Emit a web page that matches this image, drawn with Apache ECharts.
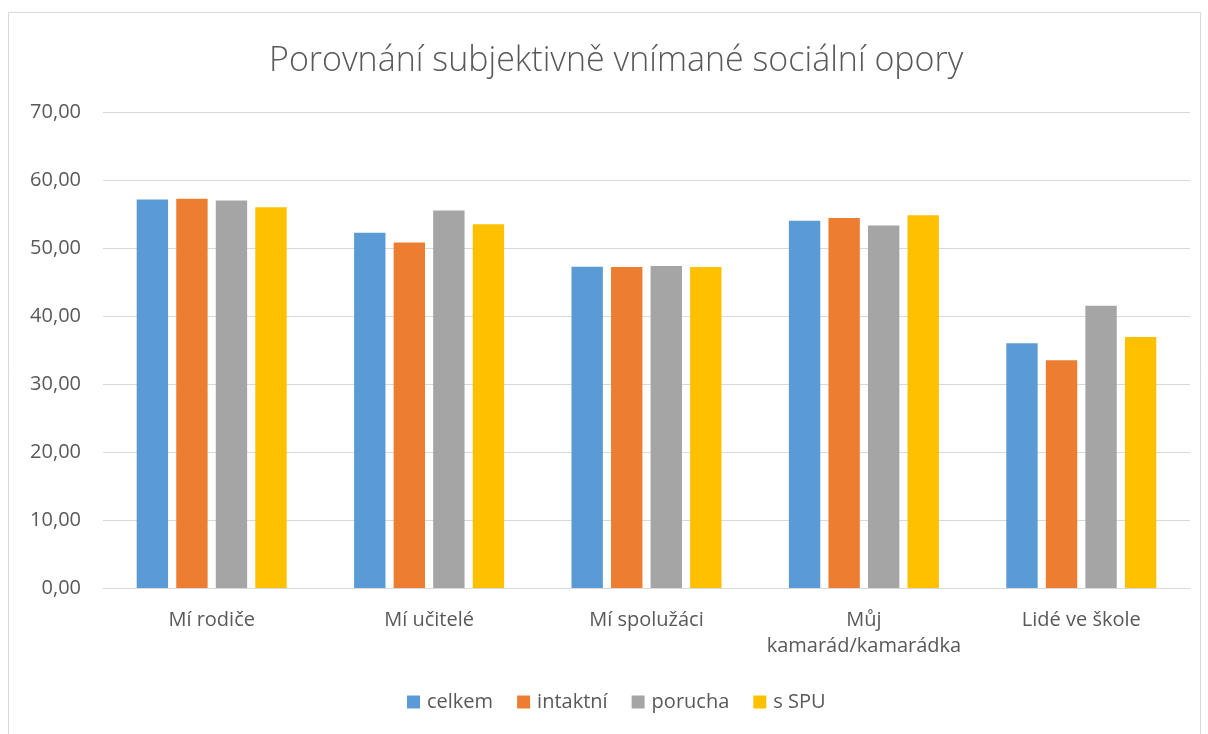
<!DOCTYPE html>
<html>
<head>
<meta charset="utf-8">
<script src="https://cdn.jsdelivr.net/npm/echarts@6/dist/echarts.min.js"></script>
<style>
  html, body { margin: 0; padding: 0; background: #fff; }
</style>
</head>
<body>
<div id="main" style="width:1208px;height:734px"></div>
<script>
const categories = ['Mí rodiče', 'Mí učitelé', 'Mí spolužáci', 'Můj\nkamarád/kamarádka', 'Lidé ve škole'];
const celkem = [57.15, 52.25, 47.25, 54.0, 36.0];
const intaktni = [57.25, 50.8, 47.2, 54.4, 33.5];
const porucha = [57.0, 55.5, 47.35, 53.3, 41.5];
const sSpu = [56.0, 53.5, 47.2, 54.8, 36.9];
const seriesNames = ['celkem', 'intaktní', 'porucha', 's SPU'];
const colors = ['#5B9BD5', '#ED7D31', '#A5A5A5', '#FFC000'];

const font = '"Open Sans", "Noto Sans", sans-serif';
const myChart = echarts.init(document.getElementById('main'));

const bar = (name, data, i) => ({
  name: name,
  type: 'bar',
  data: data,
  barGap: '26%',
  barCategoryGap: '31%',
  itemStyle: { color: colors[i] },
  animation: false
});

myChart.setOption({
  color: colors,
  graphic: [{
    type: 'rect',
    shape: { x: 8.5, y: 12.5, width: 1192, height: 740 },
    style: { fill: 'none', stroke: '#d9d9d9', lineWidth: 1 },
    silent: true
  }],
  title: {
    text: 'Porovnání subjektivně vnímané sociální opory',
    left: 264,
    top: 39,
    textStyle: { fontFamily: font, fontSize: 34, fontWeight: 300, color: '#595959' }
  },
  grid: { left: 103, right: 18, top: 112, bottom: 146 },
  legend: {
    data: seriesNames,
    bottom: 17,
    left: 402,
    icon: 'rect',
    itemWidth: 13,
    itemHeight: 13,
    itemGap: 24,
    textStyle: { fontFamily: font, fontSize: 20, color: '#595959', padding: [0, 0, 0, 2] }
  },
  xAxis: {
    type: 'category',
    data: categories,
    axisLine: { lineStyle: { color: '#d9d9d9', width: 1 } },
    axisTick: { show: false },
    axisLabel: {
      fontFamily: font, fontSize: 20, color: '#595959',
      margin: 19, lineHeight: 26, interval: 0
    }
  },
  yAxis: {
    type: 'value',
    min: 0,
    max: 70,
    interval: 10,
    axisLine: { show: false },
    axisTick: { show: false },
    splitLine: { lineStyle: { color: '#d9d9d9', width: 1 } },
    axisLabel: {
      fontFamily: font, fontSize: 20, color: '#595959', margin: 22,
      formatter: v => v.toFixed(2).replace('.', ',')
    }
  },
  series: [
    bar(seriesNames[0], celkem, 0),
    bar(seriesNames[1], intaktni, 1),
    bar(seriesNames[2], porucha, 2),
    bar(seriesNames[3], sSpu, 3)
  ]
});
</script>
</body>
</html>
